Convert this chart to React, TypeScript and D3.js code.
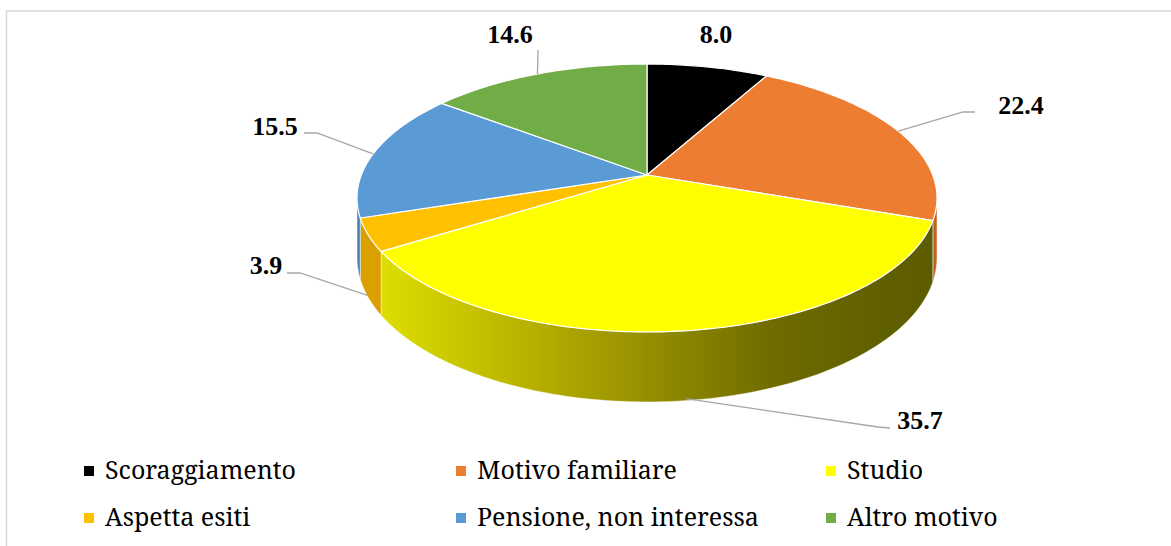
import React from "react";
import * as d3 from "d3";

const width = 1171;
const height = 546;

// data
const categories = [
  "Scoraggiamento",
  "Motivo familiare",
  "Studio",
  "Aspetta esiti",
  "Pensione, non interessa",
  "Altro motivo",
];
const values = [8.0, 22.4, 35.7, 3.9, 15.5, 14.6];
const topColors = ["#000000", "#ed7d31", "#ffff00", "#ffc000", "#5b9bd5", "#70ad47"];
const sideColors = ["#000000", "#c2621f", "url(#studioSide)", "#d9a000", "#4a82b6", "#5c9039"];

// layout of the data labels (text anchor + leader line points after the slice edge)
const labelLayout = [
  { tx: 716, ty: 43, leader: [] as number[][] },
  { tx: 1021, ty: 114, leader: [[963, 112], [975, 112]] },
  { tx: 920, ty: 429, leader: [[878, 427], [890, 428]] },
  { tx: 266, ty: 274, leader: [[300, 273], [287, 273]] },
  { tx: 275, ty: 135, leader: [[317, 133], [304, 133]] },
  { tx: 510, ty: 43, leader: [[538, 50]] },
];

// perspective ellipse
const cx = 647;
const cy = 175;
const rx = 285.7;
const ry = 130;
const k = 0.1716; // perspective factor
const depth = 58;

const proj = (theta: number, d = 0): [number, number] => {
  const u = Math.sin(theta);
  const v = Math.cos(theta);
  const s = 1 / (1 + k * v);
  return [cx + rx * u * s, cy - ry * v * s + d * depth * s];
};

const sample = (a: number, b: number, d = 0) => {
  const n = Math.max(2, Math.ceil(Math.abs(b - a) * 60));
  return d3.range(n + 1).map((i) => proj(a + ((b - a) * i) / n, d));
};

const lineGen = d3.line();

const arcs = d3.pie<number>().sort(null).value((d) => d)(values);

const frontStart = Math.acos(-k);
const frontEnd = 2 * Math.PI - frontStart;

const legendCols = [84, 456, 826];
const legendRows = [466, 513];

const labelFont = "Liberation Serif";
const legendFont = "Noto Serif";

export default function App() {
  const sides = arcs
    .map((a, i) => {
      const s = Math.max(a.startAngle, frontStart);
      const e = Math.min(a.endAngle, frontEnd);
      if (s >= e) return null;
      const pts = [...sample(s, e, 0), ...sample(e, s, 1)];
      return { i, d: lineGen(pts as [number, number][]) + "Z" };
    })
    .filter(Boolean) as { i: number; d: string }[];

  const tops = arcs.map((a, i) => {
    const pts = [[cx, cy], ...sample(a.startAngle, a.endAngle, 0)];
    return { i, d: lineGen(pts as [number, number][]) + "Z" };
  });

  const anchors = arcs.map((a, i) => {
    const mid = (a.startAngle + a.endAngle) / 2;
    const front = mid > frontStart && mid < frontEnd && i !== 1;
    return proj(mid, front ? 0.97 : 0);
  });

  return (
    <svg
      width={width}
      height={height}
      style={{ position: "absolute", left: 0, top: 0, background: "#fff" }}
    >
      <defs>
        <linearGradient id="studioSide" gradientUnits="userSpaceOnUse" x1={380} y1={0} x2={935} y2={0}>
          <stop offset="0%" stopColor="#dede00" />
          <stop offset="35%" stopColor="#aba300" />
          <stop offset="72%" stopColor="#6d6a00" />
          <stop offset="100%" stopColor="#5b5b00" />
        </linearGradient>
      </defs>

      {/* chart frame */}
      <rect x={6.5} y={11} width={1200} height={600} fill="none" stroke="#d9d9d9" strokeWidth={1.5} />

      {/* side walls */}
      {sides.map((s) => (
        <path key={"s" + s.i} d={s.d} fill={sideColors[s.i]} stroke="#ffffff" strokeOpacity={0.6} strokeWidth={0.8} />
      ))}

      {/* top faces */}
      {tops.map((t) => (
        <path key={"t" + t.i} d={t.d} fill={topColors[t.i]} stroke="#ffffff" strokeWidth={1.2} strokeLinejoin="round" />
      ))}

      {/* leader lines */}
      {labelLayout.map((l, i) =>
        l.leader.length ? (
          <path
            key={"l" + i}
            d={lineGen([anchors[i], ...l.leader] as [number, number][]) || ""}
            fill="none"
            stroke="#a6a6a6"
            strokeWidth={1.3}
          />
        ) : null
      )}

      {/* data labels */}
      {labelLayout.map((l, i) => (
        <text
          key={"v" + i}
          x={l.tx}
          y={l.ty}
          textAnchor="middle"
          fontFamily={labelFont}
          fontWeight="bold"
          fontSize={26}
          fill="#000"
        >
          {values[i].toFixed(1)}
        </text>
      ))}

      {/* legend */}
      {categories.map((c, i) => {
        const col = i % 3;
        const row = Math.floor(i / 3);
        const x = legendCols[col];
        const y = legendRows[row];
        return (
          <g key={"g" + i}>
            <rect x={x} y={y} width={10} height={10} fill={topColors[i]} />
            <text x={x + 21} y={y + 13} fontFamily={legendFont} fontSize={25} fill="#000">
              {c}
            </text>
          </g>
        );
      })}
    </svg>
  );
}
